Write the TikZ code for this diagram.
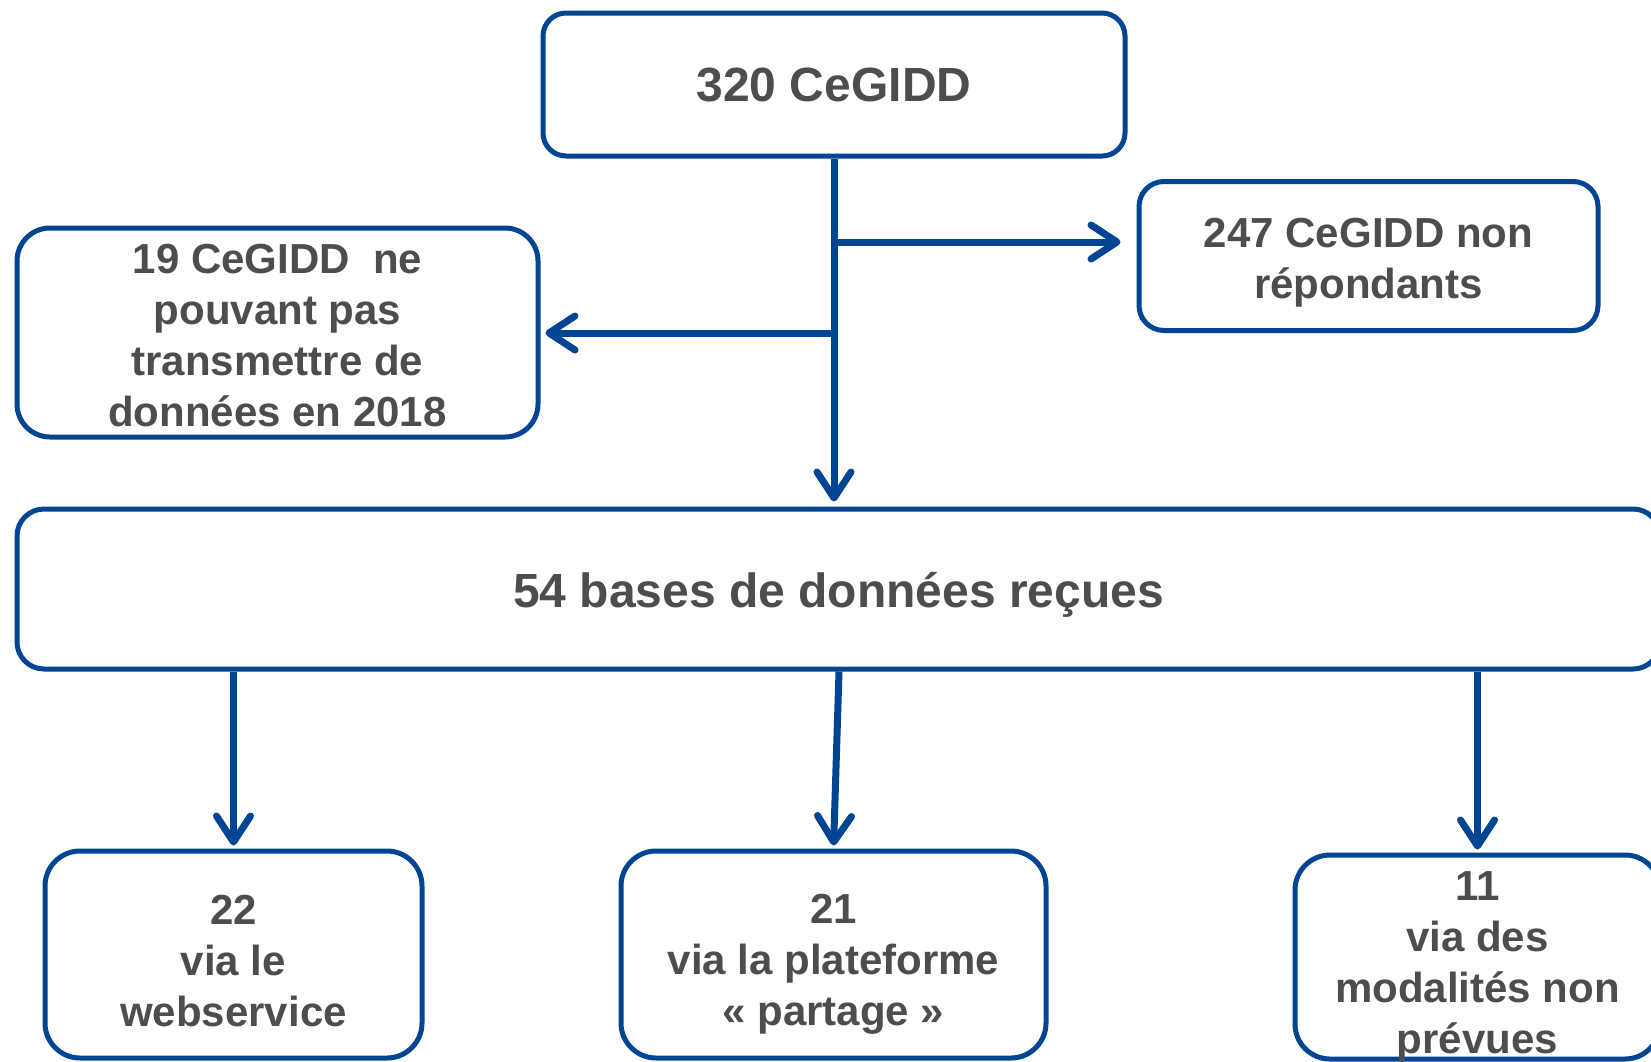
\documentclass[tikz,border=0pt]{standalone}
\usepackage{fontspec}
\setmainfont{Liberation Sans}
\usetikzlibrary{arrows.meta}
\definecolor{flowblue}{RGB}{0,68,148}
\definecolor{flowtext}{RGB}{77,77,79}
% invisible struts that fix the height of the first line and the depth of the last
\newcommand\upstrut[1]{\rule{0pt}{#1}}
\newcommand\downstrut[1][15pt]{\rule[-#1]{0pt}{#1}}
\begin{document}
\begin{tikzpicture}[x=1pt,y=-1pt,
  box/.style={draw=flowblue,line width=5pt,fill=white,inner sep=0pt,
    align=center,text=flowtext,
    font=\fontsize{42}{51}\selectfont\bfseries},
  bigtext/.style={font=\fontsize{48}{56}\selectfont\bfseries},
  arr/.style={draw=flowblue,line width=7pt,
    -{Straight Barb[length=26pt,width=34pt,round]}}]
\useasboundingbox (0,0) rectangle (1651,1061);
\clip (0,0) rectangle (1651,1061);

% boxes
\node[box,bigtext,minimum width=582pt,minimum height=143pt,rounded corners=23pt]
  (top) at (834,84.5) {\upstrut{49pt}320 CeGIDD\downstrut};
\node[box,minimum width=459pt,minimum height=149pt,rounded corners=25pt]
  (r247) at (1368.5,256) {\upstrut{48pt}247 CeGIDD non\\répondants\downstrut};
\node[box,minimum width=521pt,minimum height=209pt,rounded corners=33pt]
  (l19) at (277.5,332.5) {\upstrut{45pt}19 CeGIDD\ \ ne\\pouvant pas\\transmettre de\\données en 2018\downstrut[11pt]};
\node[box,bigtext,minimum width=1643pt,minimum height=160pt,rounded corners=27pt]
  (big) at (838.5,589) {\upstrut{52pt}54 bases de données reçues\downstrut};
\node[box,minimum width=377pt,minimum height=207pt,rounded corners=35pt]
  (b22) at (233.5,954.5) {\upstrut{57pt}22\\via le\\webservice\downstrut};
\node[box,minimum width=425pt,minimum height=207pt,rounded corners=35pt]
  (b21) at (833.5,954.5) {\upstrut{55pt}21\\via la plateforme\\« partage »\downstrut};
\node[box,minimum width=365pt,minimum height=204pt,rounded corners=35pt]
  (b11) at (1477.5,957) {\upstrut{45.5pt}11\\via des\\modalités non\\\smash{prévues}\downstrut[5.5pt]};

% trunk from the top box down to the big box
\coordinate (jr) at (top.south |- 0,242);
\coordinate (jl) at (top.south |- 0,333);
\draw[arr,shorten >=5pt] (top.south) -- (top.south |- big.north);
\draw[arr,shorten >=16pt] (jr) -- (jr -| r247.west);
\draw[arr,shorten >=5pt] (jl) -- (jl -| l19.east);

% branches to the three channels
\draw[arr,shorten >=3pt] (b22.north |- big.south) -- (b22.north);
\draw[arr,shorten >=3pt] (big.south -| 839,0) -- (b21.north);
\draw[arr,shorten >=3pt] (b11.north |- big.south) -- (b11.north);
\end{tikzpicture}
\end{document}
